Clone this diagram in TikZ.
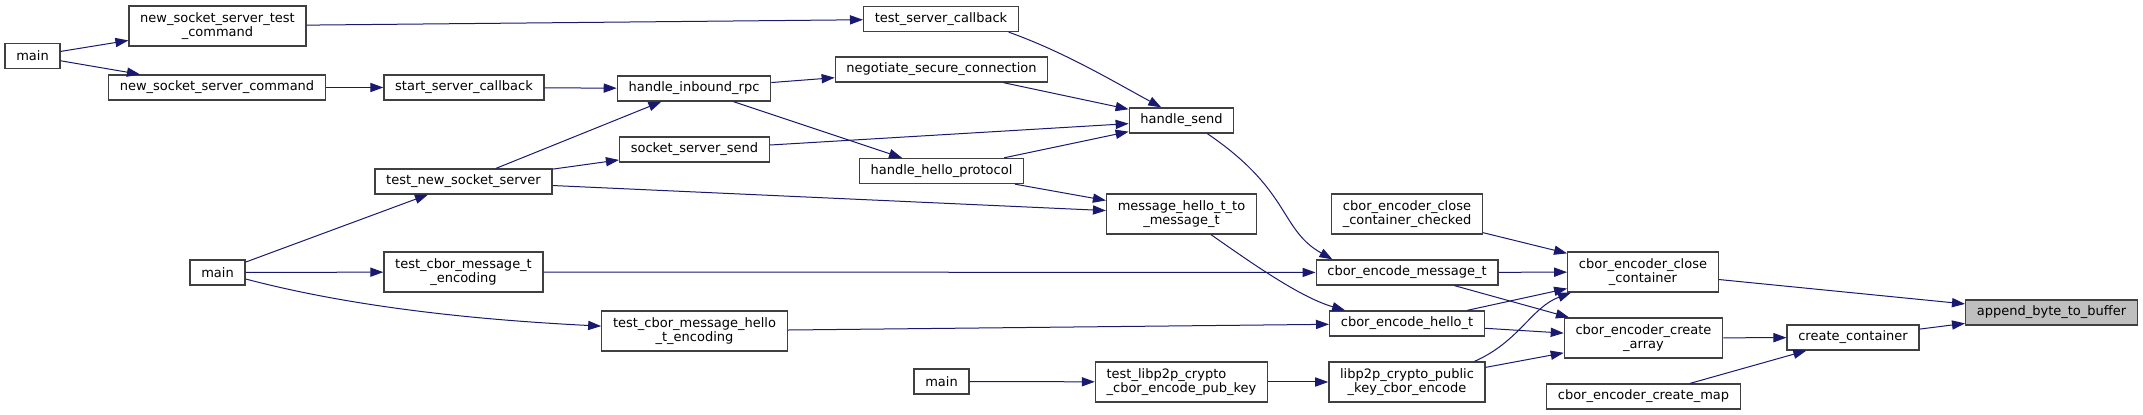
\documentclass[tikz,border=0pt]{standalone}
\usepackage{fontspec}
\setmainfont{DejaVu Sans}
\usepackage{xcolor}
\usepackage{tikz}
\usetikzlibrary{arrows.meta}
\definecolor{EdgeBlue}{RGB}{25,25,112}
\definecolor{BoxLine}{RGB}{64,64,64}
\definecolor{CurFill}{RGB}{191,191,191}
\tikzset{
  fn/.style={draw=BoxLine,line width=0.65pt,fill=white,inner xsep=5.6pt,inner ysep=0.5pt,
             minimum height=12.5pt,align=center,font=\fontsize{6.5}{6.7}\selectfont},
  fn2/.style={fn,minimum height=20pt},
  cur/.style={fn,fill=CurFill},
  call/.style={-{Triangle[length=6.5pt,width=4.6pt]},draw=EdgeBlue,line width=0.5pt},
}

\begin{document}
\begin{tikzpicture}[x=0.5pt,y=-0.5pt]
  \useasboundingbox (0,0) rectangle (2143,415);
  % callers, left to right
  \node[fn]  (main1)   at (32.5,56)    {main};
  \node[fn2] (nstest)  at (217.5,26)   {new\_socket\_server\_test\\\_command};
  \node[fn]  (nscmd)   at (217,87.5)   {new\_socket\_server\_command};
  \node[fn]  (startcb) at (464,87.5)   {start\_server\_callback};
  \node[fn]  (tnss)    at (463.5,181.5){test\_new\_socket\_server};
  \node[fn]  (main2)   at (217.5,272.5){main};
  \node[fn2] (tcmsg)   at (463.5,272)  {test\_cbor\_message\_t\\\_encoding};
  \node[fn]  (testcb)  at (941,19)     {test\_server\_callback};
  \node[fn]  (negsec)  at (941.5,69.5) {negotiate\_secure\_connection};
  \node[fn]  (inrpc)   at (694,88.5)   {handle\_inbound\_rpc};
  \node[fn]  (sssend)  at (694.5,149.5){socket\_server\_send};
  \node[fn]  (hello)   at (941.5,171)  {handle\_hello\_protocol};
  \node[fn2] (tcmhello)at (694.5,331)  {test\_cbor\_message\_hello\\\_t\_encoding};
  \node[fn]  (main3)   at (941.5,381.5){main};
  \node[fn]  (hsend)   at (1181.5,120.5){handle\_send};
  \node[fn2] (mh2m)    at (1181.5,214) {message\_hello\_t\_to\\\_message\_t};
  \node[fn2,align=left] (tpubkey) at (1181.5,382) {test\_libp2p\_crypto\\\_cbor\_encode\_pub\_key};
  \node[fn2] (ccchk)   at (1407,214)   {cbor\_encoder\_close\\\_container\_checked};
  \node[fn]  (encmsg)  at (1407,272.5) {cbor\_encode\_message\_t};
  \node[fn]  (enchello)at (1407,323.5) {cbor\_encode\_hello\_t};
  \node[fn2] (pubenc)  at (1407,382)   {libp2p\_crypto\_public\\\_key\_cbor\_encode};
  \node[fn2] (closec)  at (1643,272)   {cbor\_encoder\_close\\\_container};
  \node[fn2] (crarray) at (1643.5,338) {cbor\_encoder\_create\\\_array};
  \node[fn]  (crmap)   at (1643.5,396.5){cbor\_encoder\_create\_map};
  \node[fn]  (crcont)  at (1853,337.5) {create\_container};
  \node[cur] (append)  at (2051.5,312.5){append\_byte\_to\_buffer};
  % calls
  \draw[call] (main1)--(nstest); \draw[call] (main1)--(nscmd);
  \draw[call] (nstest)--(testcb); \draw[call] (nscmd)--(startcb);
  \draw[call] (startcb)--(inrpc); \draw[call] (tnss)--(inrpc);
  \draw[call] (tnss)--(sssend); \draw[call] (tnss)--(mh2m);
  \draw[call] (main2)--(tnss); \draw[call] (main2)--(tcmsg);
  \draw[call] (main2.-13) .. controls +(110,29) and +(-120,-6) .. (tcmhello.177);
  \draw[call] (inrpc)--(negsec); \draw[call] (inrpc)--(hello);
  \draw[call] (testcb.-11) .. controls +(56,20) and +(-48,-26) .. (hsend.147);
  \draw[call] (negsec)--(hsend); \draw[call] (sssend)--(hsend);
  \draw[call] (hello)--(hsend); \draw[call] (hello)--(mh2m);
  \draw[call] (tcmsg)--(encmsg); \draw[call] (tcmhello)--(enchello);
  \draw[call] (main3)--(tpubkey); \draw[call] (tpubkey)--(pubenc);
  \draw[call] (hsend.-27) .. controls +(84,57) and +(-53,-30) .. (encmsg.170);
  \draw[call] (mh2m.-35) .. controls +(40,28) and +(-45,-13) .. (enchello.168);
  \draw[call] (ccchk)--(closec); \draw[call] (encmsg)--(closec);
  \draw[call] (encmsg)--(crarray); \draw[call] (enchello)--(closec);
  \draw[call] (enchello)--(crarray);
  \draw[call] (pubenc.17) .. controls +(45,-20) and +(-40,15) .. (closec.196);
  \draw[call] (pubenc)--(crarray);
  \draw[call] (closec)--(append); \draw[call] (crarray)--(crcont);
  \draw[call] (crmap)--(crcont); \draw[call] (crcont)--(append);
\end{tikzpicture}
\end{document}
